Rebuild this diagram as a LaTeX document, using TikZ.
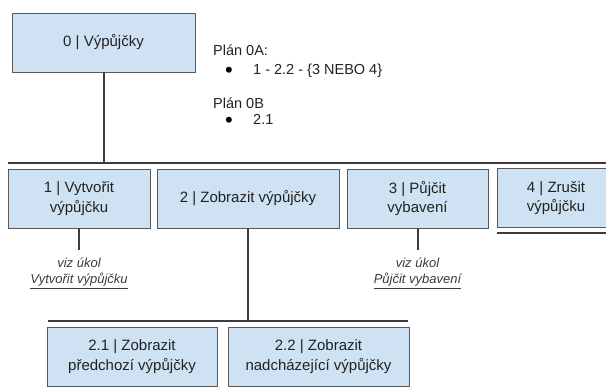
\documentclass[tikz,border=0pt]{standalone}
\usepackage{fontspec}
\setmainfont{Liberation Sans}
\definecolor{boxfill}{HTML}{CFE2F3}
\definecolor{boxline}{HTML}{595959}
\definecolor{wire}{HTML}{3C3C3C}
\definecolor{ink}{HTML}{222222}
\definecolor{note}{HTML}{3A3A3A}
\begin{document}
\begin{tikzpicture}[x=1pt,y=-1pt,
  task/.style={draw=boxline, fill=boxfill, line width=0.9pt, inner sep=0pt,
    minimum height=59pt, text=ink, align=center,
    font=\fontsize{15}{19.5}\selectfont},
  wireline/.style={draw=wire, line width=2pt},
  notetext/.style={text=note, align=center, inner sep=0pt,
    font=\fontsize{13}{16}\selectfont\itshape},
  plantext/.style={text=ink, anchor=base west, inner sep=0pt,
    font=\fontsize{14.5}{17}\selectfont},
  bulletmark/.style={text=black, anchor=base, inner sep=0pt,
    text height=11pt, text depth=0pt,
    font=\fontsize{22}{22}\selectfont}]
\useasboundingbox (0,0) rectangle (606,387);
\begin{scope}
\clip (0,0) rectangle (606,387);

% top-level task
\node[task, minimum width=183pt] (t0) at (103.5,42.5) {0 | Výpůjčky};

% plans
\node[plantext] (pa) at (213,56) {Plán 0A:};
\node[bulletmark] (pab) at (229,77.5) {•};
\node[plantext] (pai) at (253,74.5) {1 - 2.2 - \{3 NEBO 4\}};
\node[plantext] (pb) at (213,109) {Plán 0B};
\node[bulletmark] (pbb) at (229,127.5) {•};
\node[plantext] (pbi) at (253,124.5) {2.1};

% first level bus
\coordinate (busA-l) at (8,163);
\coordinate (busA-r) at (610,163);
\draw[wireline] (busA-l) -- (busA-r);
\draw[wireline] (t0.south) -- (t0.south |- busA-l);

% subtasks
\node[task, minimum width=142pt] (t1) at (79,198.5) {1 | Vytvořit\\výpůjčku};
\node[task, minimum width=182pt] (t2) at (248,198.5) {2 | Zobrazit výpůjčky};
\node[task, minimum width=141pt] (t3) at (417.5,198.5) {3 | Půjčit\\vybavení};
\node[task, minimum width=118pt] (t4) at (556,198) {4 | Zrušit\\výpůjčku};

% stop line under task 4
\coordinate (stop-l) at (497,233);
\coordinate (stop-r) at (610,233);
\draw[wireline] (stop-l) -- (stop-r);

% references to other tasks
\coordinate (r1) at (79,250);
\coordinate (r3) at (417.5,250);
\draw[wireline] (t1.south) -- (r1);
\draw[wireline] (t3.south) -- (r3);
\node[notetext, anchor=north] (n1) at (79,258) {viz úkol\\\underline{Vytvořit výpůjčku}};
\node[notetext, anchor=north] (n3) at (417.5,258) {viz úkol\\\underline{Půjčit vybavení}};

% second level bus
\coordinate (busB-l) at (48,321);
\coordinate (busB-r) at (408,321);
\draw[wireline] (busB-l) -- (busB-r);
\draw[wireline] (t2.south) -- (t2.south |- busB-l);

\node[task, minimum width=170pt] (t21) at (132,356.5) {2.1 | Zobrazit\\předchozí výpůjčky};
\node[task, minimum width=181pt] (t22) at (318.5,356.5) {2.2 | Zobrazit\\nadcházející výpůjčky};
\end{scope}
\end{tikzpicture}
\end{document}
